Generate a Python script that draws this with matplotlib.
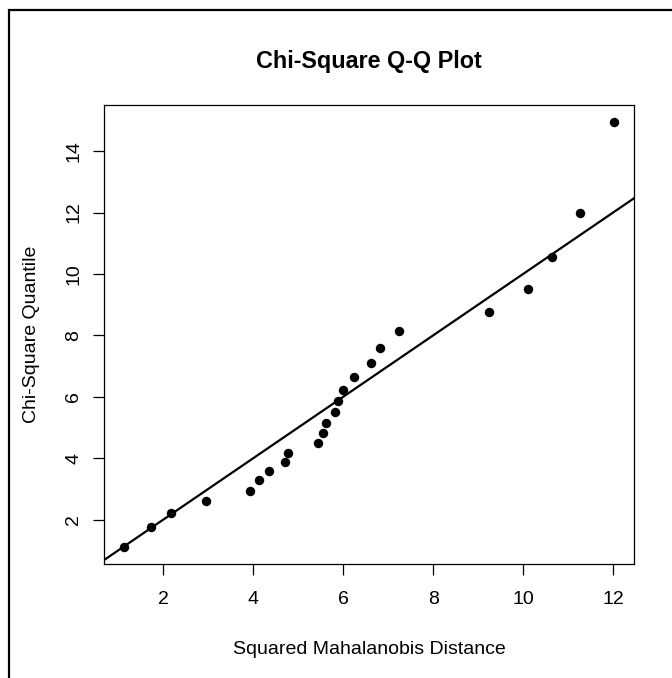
import matplotlib
matplotlib.use("Agg")
import matplotlib.pyplot as plt
from matplotlib.patches import Rectangle

# Data
mahal_dist = [1.12, 1.73, 2.18, 2.96, 3.92, 4.13, 4.36, 4.70, 4.78, 5.45, 5.56, 5.61,
              5.83, 5.89, 6.00, 6.24, 6.62, 6.82, 7.24, 9.24, 10.11, 10.64, 11.27, 12.03]
chisq_quant = [1.11, 1.77, 2.22, 2.61, 2.94, 3.28, 3.60, 3.88, 4.18, 4.51, 4.83, 5.14,
               5.51, 5.87, 6.23, 6.66, 7.10, 7.59, 8.13, 8.77, 9.52, 10.54, 11.99, 14.95]
x_ticks = [2, 4, 6, 8, 10, 12]
y_ticks = [2, 4, 6, 8, 10, 12, 14]
title = "Chi-Square Q-Q Plot"
xlabel = "Squared Mahalanobis Distance"
ylabel = "Chi-Square Quantile"

plt.rcParams['font.family'] = ['Liberation Sans', 'DejaVu Sans']

W, H = 672, 678
fig = plt.figure(figsize=(W / 100, H / 100), dpi=100)
ax = fig.add_axes([104 / W, 1 - 564 / H, (634 - 104) / W, (564 - 105) / H])

ax.scatter(mahal_dist, chisq_quant, s=6.8 ** 2, color='black', zorder=3, linewidths=0)
ax.axline((0, 0), slope=1, color='black', lw=1.6, zorder=2)

def rlim(v):
    lo, hi = min(v), max(v)
    r = hi - lo
    return lo - 0.04 * r, hi + 0.04 * r

ax.set_xlim(*rlim(mahal_dist))
ax.set_ylim(*rlim(chisq_quant))
ax.set_xticks(x_ticks)
ax.set_yticks(y_ticks)
ax.set_xticklabels([str(t) for t in x_ticks])
ax.set_yticklabels([str(t) for t in y_ticks], rotation=90, va='center')

for s in ax.spines.values():
    s.set_linewidth(0.9)
ax.tick_params(axis='both', direction='out', length=8.2, width=0.9, labelsize=14)
ax.tick_params(axis='x', pad=11.5)
ax.tick_params(axis='y', pad=7.5)

fig.text(369 / W, 1 - 68 / H, title, ha='center', va='baseline',
         fontsize=16.8, fontweight='bold')
fig.text(369 / W, 1 - 654 / H, xlabel, ha='center', va='baseline', fontsize=14)
fig.text(32 / W, 1 - 334 / H, ylabel, ha='center', va='center', rotation=90, fontsize=14)

# outer border (clipped at right and bottom like the reference)
fig.patches.append(Rectangle((8.5 / W, -0.2), 1.5, 1.2 - 9.5 / H,
                             transform=fig.transFigure, fill=False,
                             edgecolor='black', lw=1.6, clip_on=False))

fig.savefig("out.png", dpi=100)
